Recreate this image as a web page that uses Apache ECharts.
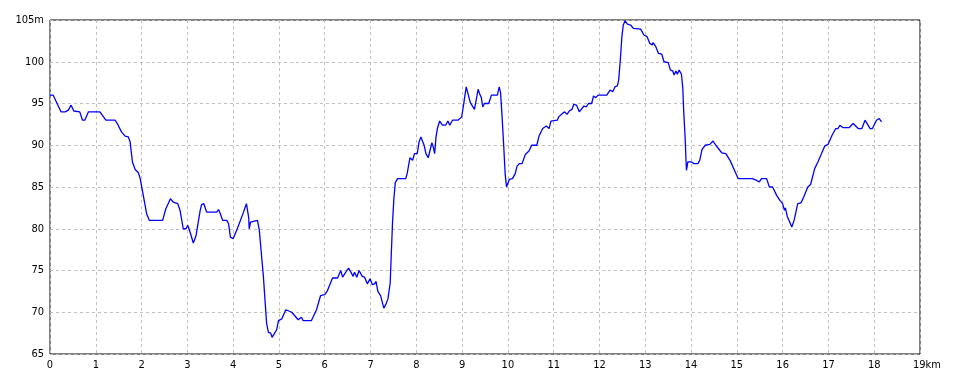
<!DOCTYPE html>
<html>
<head>
<meta charset="utf-8">
<script src="https://cdn.jsdelivr.net/npm/echarts@6/dist/echarts.min.js"></script>
<style>html,body{margin:0;padding:0;background:#fff;}#c{width:960px;height:384px;}</style>
</head>
<body>
<div id="c"></div>
<script>
const distKm = [0,0.07,0.24,0.33,0.4,0.46,0.52,0.65,0.71,0.76,0.84,1.09,1.22,1.42,1.47,1.51,1.56,1.64,1.71,1.75,1.80,1.86,1.93,1.97,2.11,2.17,2.46,2.53,2.63,2.69,2.79,2.84,2.91,2.97,3.01,3.07,3.13,3.19,3.28,3.31,3.36,3.42,3.64,3.68,3.72,3.77,3.86,3.90,3.94,4.0,4.09,4.13,4.22,4.26,4.29,4.34,4.35,4.38,4.41,4.53,4.57,4.61,4.66,4.69,4.73,4.77,4.82,4.85,4.88,4.95,4.99,5.06,5.15,5.18,5.28,5.31,5.42,5.46,5.49,5.53,5.71,5.82,5.91,6.0,6.06,6.17,6.28,6.35,6.39,6.46,6.52,6.57,6.62,6.65,6.70,6.75,6.82,6.87,6.93,6.99,7.04,7.09,7.12,7.16,7.22,7.29,7.34,7.38,7.43,7.45,7.48,7.51,7.54,7.59,7.77,7.80,7.86,7.89,7.92,7.96,8.02,8.06,8.10,8.13,8.17,8.21,8.26,8.30,8.34,8.37,8.40,8.43,8.46,8.51,8.57,8.64,8.69,8.73,8.79,8.91,8.99,9.02,9.05,9.09,9.13,9.18,9.22,9.27,9.31,9.35,9.38,9.42,9.45,9.49,9.58,9.64,9.77,9.81,9.84,9.87,9.91,9.94,9.97,9.99,10.03,10.10,10.16,10.20,10.25,10.31,10.38,10.46,10.52,10.63,10.68,10.76,10.84,10.90,10.94,11.08,11.11,11.19,11.24,11.29,11.34,11.40,11.44,11.50,11.56,11.60,11.66,11.71,11.76,11.83,11.87,11.92,11.97,12.16,12.23,12.29,12.34,12.39,12.42,12.46,12.49,12.52,12.56,12.61,12.68,12.74,12.90,12.97,13.04,13.10,13.15,13.17,13.23,13.29,13.36,13.41,13.50,13.55,13.60,13.63,13.67,13.70,13.74,13.79,13.82,13.84,13.87,13.89,13.90,13.93,14.01,14.06,14.10,14.15,14.19,14.24,14.31,14.35,14.41,14.48,14.54,14.67,14.76,14.86,14.94,15.03,15.34,15.43,15.49,15.54,15.65,15.71,15.78,15.87,15.94,16.0,16.04,16.06,16.10,16.20,16.25,16.33,16.40,16.46,16.55,16.61,16.70,16.77,16.85,16.92,16.99,17.08,17.16,17.21,17.25,17.32,17.45,17.54,17.58,17.65,17.73,17.80,17.83,17.91,17.96,18.05,18.11,18.16];
const elevM = [96.0,96.0,94.0,94.0,94.2,94.8,94.1,94.0,93.0,93.0,94.0,94.0,93.0,93.0,92.6,92.8,91.6,91.1,91.0,90.4,88.0,87.1,86.7,86.0,81.8,81.0,81.0,82.4,83.6,83.2,83.0,82.2,80.0,80.0,80.4,79.4,78.3,79.2,82.2,82.9,83.0,82.0,82.0,82.3,81.8,81.0,81.0,80.6,79.0,78.8,80.0,80.0,81.9,82.0,83.0,81.3,80.0,80.8,81.0,81.0,79.9,77.4,74.3,71.9,68.7,67.6,67.5,67.0,67.0,67.9,69.0,69.2,70.3,70.4,70.0,70.0,69.1,69.0,69.4,69.0,69.0,70.3,72.0,72.1,72.6,74.1,74.1,75.0,74.2,74.8,75.3,74.8,74.3,74.8,74.2,75.0,74.3,74.2,73.4,74.0,73.3,73.4,73.7,72.5,72.0,70.5,71.0,71.6,73.5,76.5,80.7,83.6,85.5,86.0,86.0,86.6,88.5,88.7,88.2,89.0,89.0,90.4,91.0,90.9,90.0,89.0,88.5,89.4,90.3,89.8,89.0,91.0,92.0,92.9,92.4,92.4,92.9,92.4,93.0,93.0,93.4,94.4,95.5,97.0,97.0,95.1,94.9,94.3,94.3,96.7,96.2,95.7,94.6,95.0,95.0,96.0,96.0,97.0,96.3,93.7,89.8,86.6,85.0,85.0,85.9,86.0,86.6,87.5,87.8,87.8,88.9,89.3,90.0,90.0,91.1,92.0,92.3,92.0,92.9,93.0,93.4,93.8,94.0,93.7,94.1,94.3,94.9,94.8,94.0,94.1,94.7,94.6,95.0,95.0,95.9,95.7,96.0,96.0,96.6,96.4,97.0,97.1,97.8,100.6,103.0,104.4,104.9,104.5,104.4,104.0,103.9,103.2,103.0,102.2,102.0,102.3,101.8,101.0,100.9,100.0,99.9,99.0,98.9,98.4,98.9,98.5,99.0,98.5,96.8,94.0,91.0,88.2,87.0,88.0,88.0,87.8,88.0,87.8,88.2,89.5,90.0,89.8,90.1,90.5,90.0,89.1,89.0,88.1,87.1,86.0,86.0,85.8,85.6,86.0,86.0,85.0,85.0,84.0,83.4,83.0,82.2,82.5,81.5,80.2,81.0,83.0,83.1,83.8,85.0,85.3,87.2,88.0,89.0,89.9,90.1,91.2,92.0,92.0,92.4,92.1,92.1,92.6,92.5,92.0,92.0,93.0,93.0,92.0,92.0,93.0,93.2,92.8];
const xMin = 0, xMax = 19, xStep = 1, xUnit = 'km';
const yMin = 65, yMax = 105, yStep = 5, yUnit = 'm';

const points = distKm.map((d, i) => [d, elevM[i]]);
const font = "'Liberation Sans Narrow', 'DejaVu Sans Condensed', sans-serif";
const chart = echarts.init(document.getElementById('c'), null, {renderer: 'canvas'});
chart.setOption({
  animation: false,
  backgroundColor: '#ffffff',
  grid: {left: 50, top: 20, right: 40, bottom: 30, show: true, borderColor: '#000', borderWidth: 1, backgroundColor: 'transparent'},
  xAxis: {
    type: 'value', min: xMin, max: xMax, interval: xStep,
    axisLine: {show: false}, axisTick: {show: false},
    splitLine: {show: true, lineStyle: {color: '#c0c0c0', type: [3, 3], width: 1}},
    axisLabel: {
      margin: 6, color: '#000', fontFamily: font, fontSize: 11,
      formatter: v => v === xMax ? '{u|' + v + xUnit + '}' : String(v),
      rich: {u: {color: '#000', fontFamily: font, fontSize: 11, padding: [0, 0, 0, 14]}}
    }
  },
  yAxis: {
    type: 'value', min: yMin, max: yMax, interval: yStep,
    axisLine: {show: false}, axisTick: {show: false},
    splitLine: {show: true, lineStyle: {color: '#c0c0c0', type: [3, 3], width: 1}},
    axisLabel: {
      margin: 6, color: '#000', fontFamily: font, fontSize: 11,
      formatter: v => v === yMax ? v + yUnit : String(v)
    }
  },
  series: [{
    type: 'line', data: points, showSymbol: false, symbol: 'none',
    lineStyle: {color: '#0000ff', width: 1.3}, z: 5
  }]
});
</script>
</body>
</html>
